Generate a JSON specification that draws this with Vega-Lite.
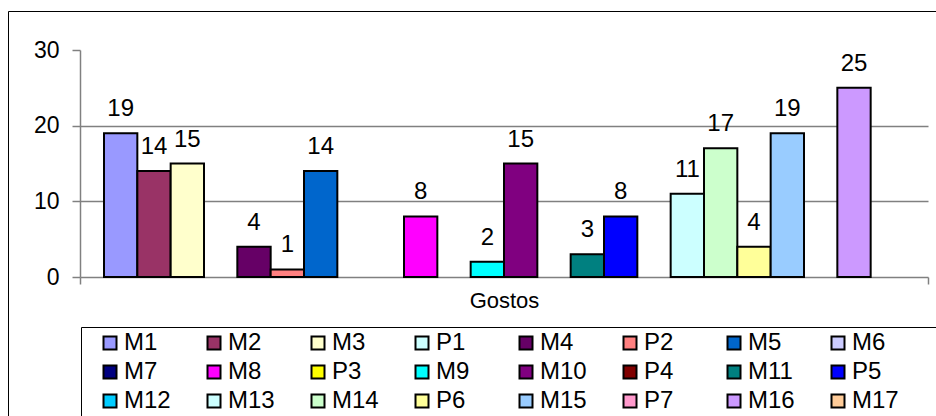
{
  "$schema": "https://vega.github.io/schema/vega-lite/v6.json",
  "width": 928,
  "height": 405,
  "autosize": {"type": "none"},
  "padding": {"left": 8, "top": 11, "right": 0, "bottom": 0},
  "background": "white",
  "config": {
    "view": {"stroke": "black", "strokeWidth": 1},
    "font": "Liberation Sans"
  },
  "data": {
    "values": [
      {"categoria": "Gostos", "serie": "M1", "valor": 19},
      {"categoria": "Gostos", "serie": "M2", "valor": 14},
      {"categoria": "Gostos", "serie": "M3", "valor": 15},
      {"categoria": "Gostos", "serie": "P1", "valor": null},
      {"categoria": "Gostos", "serie": "M4", "valor": 4},
      {"categoria": "Gostos", "serie": "P2", "valor": 1},
      {"categoria": "Gostos", "serie": "M5", "valor": 14},
      {"categoria": "Gostos", "serie": "M6", "valor": null},
      {"categoria": "Gostos", "serie": "M7", "valor": null},
      {"categoria": "Gostos", "serie": "M8", "valor": 8},
      {"categoria": "Gostos", "serie": "P3", "valor": null},
      {"categoria": "Gostos", "serie": "M9", "valor": 2},
      {"categoria": "Gostos", "serie": "M10", "valor": 15},
      {"categoria": "Gostos", "serie": "P4", "valor": null},
      {"categoria": "Gostos", "serie": "M11", "valor": 3},
      {"categoria": "Gostos", "serie": "P5", "valor": 8},
      {"categoria": "Gostos", "serie": "M12", "valor": null},
      {"categoria": "Gostos", "serie": "M13", "valor": 11},
      {"categoria": "Gostos", "serie": "M14", "valor": 17},
      {"categoria": "Gostos", "serie": "P6", "valor": 4},
      {"categoria": "Gostos", "serie": "M15", "valor": 19},
      {"categoria": "Gostos", "serie": "P7", "valor": null},
      {"categoria": "Gostos", "serie": "M16", "valor": 25},
      {"categoria": "Gostos", "serie": "M17", "valor": null}
    ]
  },
  "encoding": {
    "x": {
      "field": "categoria",
      "type": "nominal",
      "scale": {"range": [72, 920], "paddingInner": 0, "paddingOuter": 0},
      "axis": {
        "title": null,
        "orient": "bottom",
        "offset": -139,
        "labelAngle": 0,
        "labelFontSize": 22,
        "labelColor": "black",
        "labelPadding": 6,
        "domainColor": "#808080",
        "domainWidth": 1.5,
        "tickColor": "#808080",
        "tickWidth": 1.5,
        "tickSize": 7,
        "tickBand": "extent",
        "grid": false
      }
    },
    "xOffset": {
      "field": "serie",
      "type": "nominal",
      "scale": {
        "domain": ["M1","M2","M3","P1","M4","P2","M5","M6","M7","M8","P3","M9","M10","P4","M11","P5","M12","M13","M14","P6","M15","P7","M16","M17"],
        "paddingInner": 0,
        "paddingOuter": 0.72
      }
    },
    "y": {
      "field": "valor",
      "type": "quantitative",
      "scale": {"domain": [0, 30], "range": [266, 39], "nice": false},
      "axis": {
        "title": null,
        "orient": "left",
        "offset": -72,
        "values": [0, 10, 20, 30],
        "labelFontSize": 23,
        "labelColor": "black",
        "labelPadding": 13,
        "tickSize": 8,
        "tickColor": "#808080",
        "tickWidth": 1.5,
        "domainColor": "#808080",
        "domainWidth": 1.5,
        "grid": true,
        "gridColor": "#808080",
        "gridWidth": 1.5,
        "gridOpacity": {"condition": {"test": "datum.value == 10 || datum.value == 20", "value": 1}, "value": 0}
      }
    }
  },
  "layer": [
    {
      "mark": {"type": "bar", "stroke": "black", "strokeWidth": 2},
      "encoding": {
        "color": {
          "field": "serie",
          "type": "nominal",
          "scale": {
            "domain": ["M1","M2","M3","P1","M4","P2","M5","M6","M7","M8","P3","M9","M10","P4","M11","P5","M12","M13","M14","P6","M15","P7","M16","M17"],
            "range": ["#9999FF","#993366","#FFFFCC","#CCFFFF","#660066","#FF8080","#0066CC","#CCCCFF","#000080","#FF00FF","#FFFF00","#00FFFF","#800080","#800000","#008080","#0000FF","#00CCFF","#CCFFFF","#CCFFCC","#FFFF99","#99CCFF","#FF99CC","#CC99FF","#FFCC99"]
          },
          "legend": {
            "orient": "none",
            "legendX": 73,
            "legendY": 316,
            "direction": "horizontal",
            "columns": 8,
            "title": "\u00a0",
            "titleOrient": "right",
            "titlePadding": 36,
            "titleFontSize": 22,
            "gridAlign": "all",
            "columnPadding": 18,
            "rowPadding": 5,
            "symbolType": "square",
            "symbolSize": 169,
            "symbolOffset": 13,
            "symbolStrokeColor": "black",
            "symbolStrokeWidth": 2,
            "symbolOpacity": 1,
            "labelFontSize": 24,
            "labelOffset": 2,
            "labelColor": "black",
            "labelLimit": 0,
            "strokeColor": "black",
            "padding": 4
          }
        }
      }
    },
    {
      "mark": {"type": "text", "baseline": "alphabetic", "dy": -17, "fontSize": 24, "color": "black"},
      "encoding": {"text": {"field": "valor", "type": "quantitative"}}
    }
  ]
}
